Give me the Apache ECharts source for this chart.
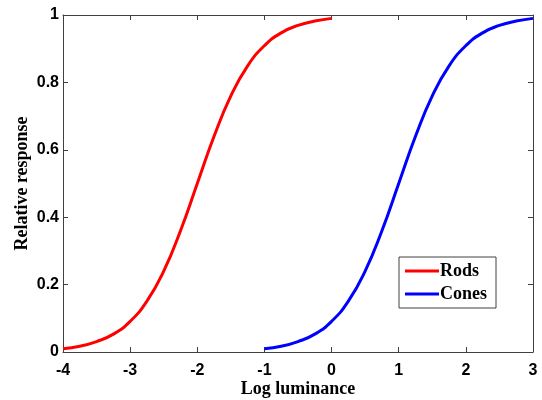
<!DOCTYPE html>
<html>
<head>
<meta charset="utf-8">
<script src="https://cdn.jsdelivr.net/npm/echarts@6/dist/echarts.min.js"></script>
<style>html,body{margin:0;padding:0;background:#fff}#c{width:542px;height:400px}</style>
</head>
<body>
<div id="c"></div>
<script>
var rodsX = [-4,-3.75,-3.5,-3.25,-3,-2.75,-2.5,-2.25,-2,-1.75,-1.5,-1.25,-1,-0.75,-0.5,-0.25,0];
var rodsY = [0.010,0.017,0.031,0.053,0.091,0.151,0.240,0.360,0.500,0.640,0.760,0.849,0.909,0.947,0.969,0.982,0.990];
var conesX = [-1,-0.75,-0.5,-0.25,0,0.25,0.5,0.75,1,1.25,1.5,1.75,2,2.25,2.5,2.75,3];
var conesY = [0.010,0.017,0.031,0.053,0.091,0.151,0.240,0.360,0.500,0.640,0.760,0.849,0.909,0.947,0.969,0.982,0.990];
var seriesNames = ['Rods','Cones'];
var xTitle = 'Log luminance';
var yTitle = 'Relative response';

function pairs(xs, ys){ return xs.map(function(x,i){ return [x, ys[i]]; }); }

var chart = echarts.init(document.getElementById('c'));
var axisLine = {show:true, onZero:false, lineStyle:{color:'#404040', width:1}};
var tickIn = {show:true, inside:true, length:5, lineStyle:{color:'#404040'}};
var lblFont = {fontFamily:'Liberation Sans, Arial', fontWeight:'bold', fontSize:16, color:'#000'};
var titleFont = {fontFamily:'Liberation Serif, Times New Roman', fontWeight:'bold', fontSize:18, color:'#000'};
chart.setOption({
  animation:false,
  backgroundColor:'#fff',
  grid:{left:63, right:9, top:15, bottom:48, containLabel:false, outerBoundsMode:'none'},
  legend:{
    orient:'vertical', left:399, top:257,
    data:seriesNames,
    icon:'rect', itemWidth:34, itemHeight:3, itemGap:5,
    borderColor:'#404040', borderWidth:1, borderRadius:0,
    padding:[5,9,5,6], backgroundColor:'#fff',
    textStyle:{fontFamily:'Liberation Serif, Times New Roman', fontWeight:'bold', fontSize:18, color:'#000', padding:[0,0,0,-4], lineHeight:18}
  },
  xAxis:[{
    type:'value', min:-4, max:3, interval:1, position:'bottom',
    axisLine:axisLine, axisTick:tickIn, splitLine:{show:false},
    axisLabel:Object.assign({margin:11}, lblFont),
    name:xTitle, nameLocation:'middle', nameGap:28, nameMoveOverlap:false,
    nameTextStyle:titleFont
  },{
    type:'value', min:-4, max:3, interval:1, position:'top',
    axisLine:axisLine, axisTick:tickIn, splitLine:{show:false}, axisLabel:{show:false}
  }],
  yAxis:[{
    type:'value', min:0, max:1, interval:0.2, position:'left',
    axisLine:axisLine, axisTick:tickIn, splitLine:{show:false},
    axisLabel:Object.assign({margin:4}, lblFont),
    name:yTitle, nameLocation:'middle', nameGap:32, nameRotate:90, nameMoveOverlap:false,
    nameTextStyle:titleFont
  },{
    type:'value', min:0, max:1, interval:0.2, position:'right',
    axisLine:axisLine, axisTick:tickIn, splitLine:{show:false}, axisLabel:{show:false}
  }],
  series:[{
    name:seriesNames[0], type:'line', smooth:true, symbol:'none',
    data:pairs(rodsX, rodsY), color:'#ff0000', lineStyle:{color:'#ff0000', width:3}
  },{
    name:seriesNames[1], type:'line', smooth:true, symbol:'none',
    data:pairs(conesX, conesY), color:'#0000ff', lineStyle:{color:'#0000ff', width:3}
  }]
});
</script>
</body>
</html>
